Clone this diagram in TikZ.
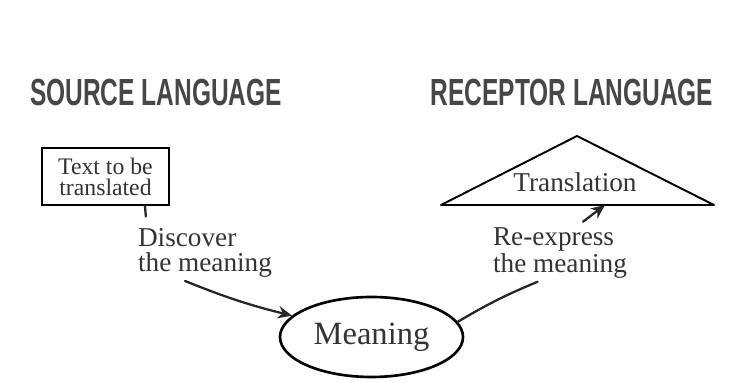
\documentclass[tikz,border=0pt]{standalone}
\usepackage{fontspec}
\setmainfont{Liberation Serif}
\newfontfamily\headfont{Liberation Sans}
\usepackage{graphicx}
\usetikzlibrary{arrows.meta}
\usetikzlibrary{shapes.geometric}

\begin{document}
\begin{tikzpicture}[every node/.style={text=black!80}, every path/.style={line cap=round},
    header/.style={font=\headfont\bfseries\fontsize{21.5}{24}\selectfont, text=black!72},
    label/.style={align=left, font=\fontsize{15.5}{14}\selectfont},
    link/.style={line width=1.3pt, black!85},
    arr/.style={link, -{Stealth[length=8pt, width=7pt]}}]

    \useasboundingbox (0,0) rectangle (14.76,7.66);

    \node[header] (src) at (3.12,5.81) {\scalebox{0.648}[1]{SOURCE LANGUAGE}};
    \node[header] (rcp) at (11.44,5.81) {\scalebox{0.648}[1]{RECEPTOR LANGUAGE}};

    \node[draw, line width=1.5pt, minimum width=2.54cm, minimum height=1.14cm, align=center,
        font=\fontsize{13.5}{12}\selectfont] (text) at (2.11,4.13) {Text to be\\translated};

    \node[label] (disc) at (4.10,2.60) {Discover\\the meaning};
    \node[label] (rexp) at (11.20,2.60) {Re-express\\the meaning};

    \node[draw, ellipse, line width=1.5pt, minimum width=3.66cm, minimum height=1.6cm,
        font=\fontsize{18.5}{20}\selectfont] (mean) at (7.43,0.92) {Meaning};

    % triangle
    \coordinate (apex) at (11.54,4.94);
    \coordinate (bl) at (8.82,3.56);
    \coordinate (br) at (14.28,3.56);
    \coordinate (bt) at (12.10,3.56);
    \draw[line width=1.1pt, line join=round] (bl) -- (apex) -- (br) -- cycle;
    \node[font=\fontsize{15.5}{16}\selectfont] (trans) at (11.50,4.02) {Translation};

    \draw[link] ([xshift=0.79cm]text.south) -- ([xshift=0.28cm,yshift=0.12cm]disc.north west);
    \draw[arr] ([xshift=-0.4cm,yshift=0.05cm]disc.south) to[bend right=4] (mean.165);
    \draw[link] (mean.10) to[bend left=4] ([xshift=-0.45cm,yshift=0.05cm]rexp.south);
    \draw[arr] ([xshift=0.46cm]rexp.north) -- (bt);

\end{tikzpicture}
\end{document}
